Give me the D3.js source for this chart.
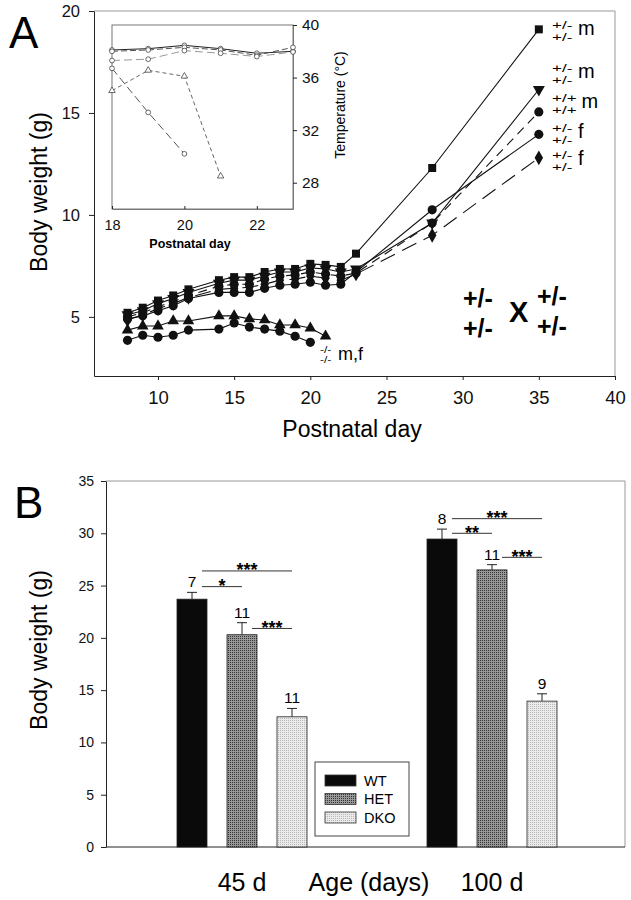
<!DOCTYPE html>
<html>
<head>
<meta charset="utf-8">
<script src="https://cdn.jsdelivr.net/npm/d3@7"></script>
<style>
  html, body { margin: 0; padding: 0; background: #fff; }
  svg { display: block; font-family: "Liberation Sans", Arial, Helvetica, sans-serif; }
</style>
</head>
<body>
<div id="fig"></div>
<script>
// --- DATA: panel A, body weight by postnatal day ---
const days = [8, 9, 10, 11, 12, 14, 15, 16, 17, 18, 19, 20, 21, 22, 23, 28, 35];
const hetMaleA = [5.2, 5.45, 5.8, 6.05, 6.35, 6.8, 6.95, 6.95, 7.2, 7.35, 7.35, 7.6, 7.55, 7.45, 8.1, 12.3, 19.1];
const hetMaleB = [5.1, 5.3, 5.65, 5.9, 6.2, 6.65, 6.8, 6.8, 7.0, 7.2, 7.2, 7.4, 7.35, 7.2, 7.35, 9.6, 16.15];
const wtMale = [5.0, 5.2, 5.5, 5.75, 6.05, 6.5, 6.6, 6.6, 6.85, 7.0, 7.05, 7.2, 7.1, 7.0, 7.15, 9.6, 15.05];
const hetFemaleA = [4.9, 5.05, 5.3, 5.55, 5.9, 6.2, 6.2, 6.2, 6.4, 6.55, 6.6, 6.7, 6.55, 6.6, 7.2, 10.25, 13.95];
const hetFemaleB = [4.85, 5.1, 5.4, 5.65, 5.95, 6.35, 6.4, 6.45, 6.6, 6.8, 6.85, 7.0, 6.9, 6.8, 7.1, 9.0, 12.8];

// double knockouts (-/- -/-), they stop at day 20/21
const koTriDays = [8, 9, 10, 11, 12, 14, 15, 16, 17, 18, 19, 20, 21];
const koTri = [4.35, 4.55, 4.55, 4.8, 4.8, 5.05, 5.05, 4.9, 4.85, 4.6, 4.6, 4.45, 4.05];
const koCircDays = [8, 9, 10, 11, 12, 14, 15, 16, 17, 18, 19, 20];
const koCirc = [3.85, 4.1, 4.0, 4.1, 4.35, 4.4, 4.7, 4.5, 4.4, 4.3, 4.05, 3.75];

// genotype labels at the right end (top row, bottom row, sex)
const labelTop = ["+/-", "+/-", "+/+", "+/-", "+/-"];
const labelBottom = ["+/-", "+/-", "+/+", "+/-", "+/-"];
const labelSex = ["m", "m", "m", "f", "f"];

// --- DATA: inset, body temperature ---
const insetDays = [18, 19, 20, 21, 22, 23];
const tempA = [38.1, 38.2, 38.45, 38.2, 37.85, 38.0];
const tempB = [38.0, 38.1, 38.3, 38.1, 37.7, 38.3];
const tempC = [37.3, 37.4, 38.05, 37.85, 37.6, 37.95];
const tempD = [36.7, 33.35, 30.2];
const tempE = [35.0, 36.55, 36.1, 28.5];

// --- DATA: panel B, adult body weight ---
const ages = ["45 d", "100 d"];
const genotypes = ["WT", "HET", "DKO"];
const weight45 = [23.7, 20.3, 12.45];
const sem45 = [0.65, 1.15, 0.8];
const n45 = [7, 11, 11];
const weight100 = [29.45, 26.5, 13.95];
const sem100 = [0.95, 0.5, 0.7];
const n100 = [8, 11, 9];
// significance bars: age index, from genotype, to genotype, height (g), stars
const sigAge = [0, 0, 0, 1, 1, 1];
const sigFrom = [0, 0, 1, 0, 0, 1];
const sigTo = [2, 1, 2, 2, 1, 2];
const sigY = [26.4, 24.9, 20.9, 31.4, 30.0, 27.7];
const sigStars = ["***", "*", "***", "***", "**", "***"];

const W = 631, H = 900;
const svg = d3.select("#fig").append("svg").attr("width", W).attr("height", H);

function styleAxis(g, size) {
  g.select(".domain").attr("stroke", "#222");
  g.selectAll(".tick line").attr("stroke", "#222");
  g.selectAll("text").attr("font-size", size).attr("fill", "#111").attr("font-family", null);
}

// two stacked genotype rows; glyphs are wide and flat in the original, so squash them
// returns the width of the widest row
function stacked(g, x, y, top, bottom, size, gap, sy) {
  let w = 0;
  [top, bottom].forEach((s, k) => {
    const t = g.append("text").attr("transform", `translate(${x},${y + k * gap}) scale(1,${sy})`)
      .attr("font-size", size).text(s);
    w = Math.max(w, t.node().getComputedTextLength());
  });
  return w;
}

// --- PANEL A ---
const pa = { left: 94, right: 615, top: 11, bottom: 376 };
const xA = d3.scaleLinear().domain([5.8, 40]).range([pa.left, pa.right]);
const yA = d3.scaleLinear().domain([2.1, 20]).range([pa.bottom, pa.top]);
const gA = svg.append("g");

// frame (top and right are lighter)
gA.append("path")
  .attr("d", `M${pa.left},${pa.top}H${pa.right}V${pa.bottom}`)
  .attr("fill", "none").attr("stroke", "#999").attr("stroke-width", 1);

gA.append("g").attr("transform", `translate(${pa.left},0)`)
  .call(d3.axisLeft(yA).tickValues([5, 10, 15, 20]).tickSize(5).tickSizeOuter(0).tickPadding(9))
  .call(g => styleAxis(g, 16.5));
gA.append("g").attr("transform", `translate(0,${pa.bottom})`)
  .call(d3.axisBottom(xA).tickValues([10, 15, 20, 25, 30, 35, 40]).tickSize(4).tickSizeOuter(0).tickPadding(11))
  .call(g => styleAxis(g, 18.5));

gA.append("text").attr("x", 352).attr("y", 437).attr("text-anchor", "middle")
  .attr("font-size", 23).text("Postnatal day");
gA.append("text").attr("transform", "translate(47,192) rotate(-90)").attr("text-anchor", "middle")
  .attr("font-size", 23).text("Body weight (g)");
svg.append("text").attr("x", 9).attr("y", 48).attr("font-size", 44).text("A");

// weight series
const seriesA = [
  { vals: hetMaleA, sym: d3.symbolSquare, size: 64, rot: 0, dash: null },
  { vals: hetMaleB, sym: d3.symbolTriangle, size: 62, rot: 180, dash: null },
  { vals: wtMale, sym: d3.symbolCircle, size: 66, rot: 0, dash: "9,6" },
  { vals: hetFemaleA, sym: d3.symbolCircle, size: 66, rot: 0, dash: null },
  { vals: hetFemaleB, sym: d3.symbolDiamond, size: 62, rot: 0, dash: "16,8" }
];
const lineA = d3.line().x(d => xA(d[0])).y(d => yA(d[1]));

function drawSeries(g, pts, s) {
  g.append("path").datum(pts).attr("d", lineA)
    .attr("fill", "none").attr("stroke", "#111").attr("stroke-width", 1.1)
    .attr("stroke-dasharray", s.dash);
  g.selectAll(null).data(pts).enter().append("path")
    .attr("d", d3.symbol().type(s.sym).size(s.size))
    .attr("transform", d => `translate(${xA(d[0])},${yA(d[1])}) rotate(${s.rot})`)
    .attr("fill", "#111");
}

seriesA.forEach(s => {
  const pts = days.map((d, i) => [d, s.vals[i]]);
  drawSeries(gA.append("g"), pts, s);
});
drawSeries(gA.append("g"), koTriDays.map((d, i) => [d, koTri[i]]),
  { sym: d3.symbolTriangle, size: 58, rot: 0, dash: null });
drawSeries(gA.append("g"), koCircDays.map((d, i) => [d, koCirc[i]]),
  { sym: d3.symbolCircle, size: 66, rot: 0, dash: null });

// genotype labels at right
const labelTops = [20, 63, 93, 123, 150];
labelTops.forEach((t, i) => {
  const g = gA.append("g");
  const w = stacked(g, 552, t + 8.5, labelTop[i], labelBottom[i], 17, 12, 0.6);
  g.append("text").attr("x", Math.max(578, 552 + w + 5)).attr("y", t + 15)
    .attr("font-size", 20).text(labelSex[i]);
});
// -/- label
stacked(gA, 320, 353, "-/-", "-/-", 12, 10, 0.72);
gA.append("text").attr("x", 338).attr("y", 360).attr("font-size", 18).text("m,f");

// cross annotation
const cross = gA.append("g").attr("font-weight", "bold");
stacked(cross, 463, 307, "+/-", "+/-", 25, 30, 1);
stacked(cross, 537, 305, "+/-", "+/-", 25, 30, 1);
cross.append("text").attr("x", 509).attr("y", 322).attr("font-size", 29).text("X");

// --- INSET ---
const pi = { left: 112, right: 293, top: 25, bottom: 209 };
const xI = d3.scaleLinear().domain([18, 23]).range([pi.left, pi.right]);
const yI = d3.scaleLinear().domain([26, 40]).range([pi.bottom, pi.top]);
const gI = svg.append("g");
gI.append("rect").attr("x", pi.left).attr("y", pi.top)
  .attr("width", pi.right - pi.left).attr("height", pi.bottom - pi.top)
  .attr("fill", "#fff").attr("stroke", "#777");
gI.append("g").attr("transform", `translate(${pi.right},0)`)
  .call(d3.axisRight(yI).tickValues([28, 32, 36, 40]).tickSize(4).tickSizeOuter(0).tickPadding(5))
  .call(g => styleAxis(g, 15.5))
  .call(g => g.select(".domain").attr("stroke", "#777"));
gI.append("g").attr("transform", `translate(0,${pi.bottom})`)
  .call(d3.axisBottom(xI).tickValues([18, 20, 22]).tickFormat(d3.format("d"))
    .tickSize(-3).tickSizeOuter(0).tickPadding(11))
  .call(g => styleAxis(g, 14.5))
  .call(g => g.select(".domain").attr("stroke", "#777"));
gI.append("text").attr("x", 190).attr("y", 248).attr("text-anchor", "middle")
  .attr("font-size", 12.5).attr("font-weight", "bold").text("Postnatal day");
gI.append("text").attr("transform", "translate(345,105) rotate(-90)").attr("text-anchor", "middle")
  .attr("font-size", 14).text("Temperature (°C)");

const lineI = d3.line().x(d => xI(d[0])).y(d => yI(d[1]));
const tempSeries = [
  { vals: tempA, color: "#222", dash: null, sym: d3.symbolCircle },
  { vals: tempB, color: "#555", dash: "6,3", sym: d3.symbolCircle },
  { vals: tempC, color: "#999", dash: "8,4", sym: d3.symbolCircle },
  { vals: tempD, color: "#555", dash: "8,4", sym: d3.symbolCircle },
  { vals: tempE, color: "#666", dash: "4,3", sym: d3.symbolTriangle }
];
tempSeries.forEach(s => {
  const pts = s.vals.map((v, i) => [insetDays[i], v]);
  gI.append("path").datum(pts).attr("d", lineI)
    .attr("fill", "none").attr("stroke", s.color).attr("stroke-width", 1)
    .attr("stroke-dasharray", s.dash);
  gI.selectAll(null).data(pts).enter().append("path")
    .attr("d", d3.symbol().type(s.sym).size(18))
    .attr("transform", d => `translate(${xI(d[0])},${yI(d[1])})`)
    .attr("fill", "#fff").attr("stroke", "#444").attr("stroke-width", 0.8);
});

// --- PANEL B ---
const pb = { left: 106, right: 625, top: 481, bottom: 847 };
const yB = d3.scaleLinear().domain([0, 35]).range([pb.bottom, pb.top]);
const x0 = d3.scaleBand().domain(ages).range([117, 617]);
const x1 = d3.scaleBand().domain(genotypes).range([-65, 65]).paddingInner(0.4);
const gB = svg.append("g");

// stippled fills, dot grid so no diagonal stripes show
const defs = svg.append("defs");
function stipple(id, base, dot) {
  const p = defs.append("pattern").attr("id", id).attr("width", 2).attr("height", 2)
    .attr("patternUnits", "userSpaceOnUse");
  p.append("rect").attr("width", 2).attr("height", 2).attr("fill", base);
  p.append("rect").attr("width", 1).attr("height", 1).attr("fill", dot);
}
stipple("hetFill", "#999", "#333");
stipple("dkoFill", "#eaeaea", "#b8b8b8");
const fills = { WT: "#0a0a0a", HET: "url(#hetFill)", DKO: "url(#dkoFill)" };

gB.append("path")
  .attr("d", `M${pb.left},${pb.top}H${pb.right}V${pb.bottom}`)
  .attr("fill", "none").attr("stroke", "#999");
gB.append("g").attr("transform", `translate(${pb.left},0)`)
  .call(d3.axisLeft(yB).tickValues(d3.range(0, 36, 5)).tickSize(5).tickSizeOuter(0).tickPadding(7))
  .call(g => styleAxis(g, 14));
gB.append("line").attr("x1", pb.left).attr("x2", pb.right)
  .attr("y1", pb.bottom).attr("y2", pb.bottom).attr("stroke", "#222");

const barData = [];
ages.forEach((age, a) => {
  const w = a === 0 ? weight45 : weight100;
  const e = a === 0 ? sem45 : sem100;
  const n = a === 0 ? n45 : n100;
  genotypes.forEach((gt, i) => barData.push({ age, gt, v: w[i], e: e[i], n: n[i] }));
});
const cx = d => x0(d.age) + x0.bandwidth() / 2 + x1(d.gt) + x1.bandwidth() / 2;

gB.selectAll("path.err").data(barData).enter().append("path")
  .attr("d", d => `M${cx(d)},${yB(d.v)}V${yB(d.v + d.e)}M${cx(d) - 5},${yB(d.v + d.e)}H${cx(d) + 5}`)
  .attr("stroke", "#222").attr("stroke-width", 1).attr("fill", "none");
gB.selectAll("rect.bar").data(barData).enter().append("rect")
  .attr("x", d => cx(d) - x1.bandwidth() / 2).attr("width", x1.bandwidth())
  .attr("y", d => yB(d.v)).attr("height", d => yB(0) - yB(d.v))
  .attr("fill", d => fills[d.gt]).attr("stroke", "#222").attr("stroke-width", 0.8);
gB.selectAll("text.n").data(barData).enter().append("text")
  .attr("x", cx).attr("y", d => yB(d.v + d.e) - 5).attr("text-anchor", "middle")
  .attr("font-size", 15.5).text(d => d.n);

sigY.forEach((v, k) => {
  const base = x0(ages[sigAge[k]]) + x0.bandwidth() / 2 + x1.bandwidth() / 2;
  const xa = base + x1(genotypes[sigFrom[k]]) + 10;
  const xb = base + x1(genotypes[sigTo[k]]);
  gB.append("line").attr("x1", xa).attr("x2", xb).attr("y1", yB(v)).attr("y2", yB(v))
    .attr("stroke", "#333").attr("stroke-width", 1);
  gB.append("text").attr("x", (xa + xb) / 2).attr("y", yB(v) + 5.5).attr("text-anchor", "middle")
    .attr("font-size", 18).attr("font-weight", "bold").text(sigStars[k]);
});

// legend
const lg = gB.append("g").attr("transform", "translate(315,762)");
lg.append("rect").attr("width", 94).attr("height", 74).attr("fill", "#fff").attr("stroke", "#444");
genotypes.forEach((gt, i) => {
  const yy = 13 + i * 18.5;
  lg.append("rect").attr("x", 10).attr("y", yy).attr("width", 31).attr("height", 11)
    .attr("fill", fills[gt]).attr("stroke", "#333").attr("stroke-width", 0.8);
  lg.append("text").attr("x", 49).attr("y", yy + 10.5).attr("font-size", 14.5).text(gt);
});

ages.forEach(age => {
  gB.append("text").attr("x", x0(age) + x0.bandwidth() / 2).attr("y", 891)
    .attr("text-anchor", "middle").attr("font-size", 25).text(age);
});
gB.append("text").attr("x", 369).attr("y", 891).attr("text-anchor", "middle")
  .attr("font-size", 25).text("Age (days)");
gB.append("text").attr("transform", "translate(47,650) rotate(-90)").attr("text-anchor", "middle")
  .attr("font-size", 23).text("Body weight (g)");
svg.append("text").attr("x", 14).attr("y", 518).attr("font-size", 44).text("B");
</script>
</body>
</html>
